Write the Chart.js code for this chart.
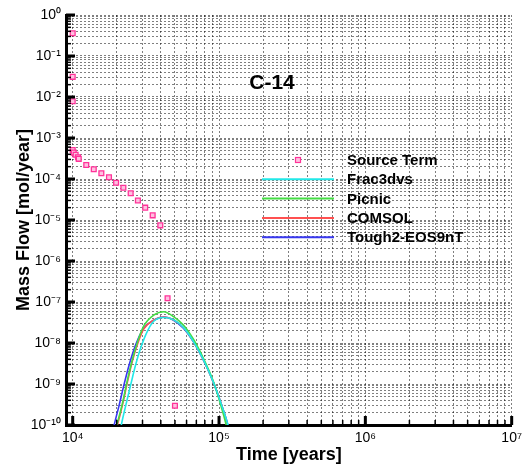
<!DOCTYPE html>
<html>
<head>
<meta charset="utf-8">
<script src="https://cdn.jsdelivr.net/npm/chart.js@4.4.1/dist/chart.umd.min.js"></script>
<style>
  html, body { margin: 0; padding: 0; background: #fff; }
  #wrap { width: 527px; height: 466px; }
</style>
</head>
<body>
<div id="wrap"><canvas id="massChart" width="527" height="466"></canvas></div>
<script>
'use strict'

// source term (markers)
const sourceTime = [1e4, 1e4, 1e4, 1e4, 1.016e4, 1.047e4, 1.086e4, 1.1e4, 1.238e4, 1.393e4, 1.57e4, 1.77e4, 1.98e4, 2.22e4, 2.49e4, 2.79e4, 3.13e4, 3.52e4, 3.97e4, 4.45e4, 5.0e4];
const sourceFlow = [0.36, 0.031, 0.0079, 5.1e-4, 4.4e-4, 3.9e-4, 3.4e-4, 3.1e-4, 2.2e-4, 1.73e-4, 1.38e-4, 1.1e-4, 8.1e-5, 6.1e-5, 4.5e-5, 3.0e-5, 2.0e-5, 1.3e-5, 7.4e-6, 1.23e-7, 2.95e-10];

const frac3dvsTime = [2.08e4, 2.15e4, 2.31e4, 2.49e4, 2.69e4, 2.91e4, 3.23e4, 3.58e4, 4.19e4, 4.89e4, 5.71e4, 6.67e4, 7.8e4, 9.11e4, 1.04e5, 1.15e5, 1.2e5];
const frac3dvsFlow = [5e-11, 1e-10, 3.1e-10, 9.5e-10, 2.9e-9, 7.4e-9, 1.9e-8, 3.4e-8, 4.2e-8, 3.7e-8, 2.4e-8, 1.1e-8, 4e-9, 1.15e-9, 3.1e-10, 1e-10, 5e-11];

const picnicTime = [1.88e4, 2.0e4, 2.18e4, 2.36e4, 2.55e4, 2.76e4, 3.06e4, 3.58e4, 4.19e4, 4.89e4, 5.71e4, 6.67e4, 7.8e4, 9.11e4, 1.03e5, 1.12e5, 1.17e5];
const picnicFlow = [5e-11, 1e-10, 3.2e-10, 1.2e-9, 3.8e-9, 1e-8, 2.6e-8, 4.8e-8, 5.8e-8, 4.4e-8, 2.75e-8, 1.25e-8, 4.3e-9, 1.2e-9, 3e-10, 1e-10, 5e-11];

const comsolTime = [1.9e4, 2.02e4, 2.19e4, 2.37e4, 2.55e4, 2.76e4, 3.06e4, 3.58e4, 4.19e4, 4.89e4, 5.71e4, 6.67e4, 7.8e4, 9.11e4, 1.04e5, 1.14e5, 1.19e5];
const comsolFlow = [5e-11, 1e-10, 3.1e-10, 1.14e-9, 3.5e-9, 8.9e-9, 2.2e-8, 3.6e-8, 4.3e-8, 3.7e-8, 2.4e-8, 1.1e-8, 4e-9, 1.15e-9, 3.1e-10, 1e-10, 5e-11];

const tough2Time = [1.84e4, 1.92e4, 2.08e4, 2.24e4, 2.43e4, 2.69e4, 3.06e4, 3.58e4, 4.19e4, 4.89e4, 5.71e4, 6.67e4, 7.8e4, 9.11e4, 1.04e5, 1.15e5, 1.2e5];
const tough2Flow = [5e-11, 1e-10, 3.1e-10, 9.5e-10, 2.9e-9, 8.9e-9, 2.3e-8, 3.6e-8, 4.3e-8, 3.6e-8, 2.3e-8, 1.08e-8, 3.9e-9, 1.14e-9, 3.1e-10, 1e-10, 5e-11];

// axis ticks (decade exponents and their labels)
const xTickExps = [4, 5, 6, 7];
const xTickLabels = ['10⁴', '10⁵', '10⁶', '10⁷'];
const yTickExps = [-10, -9, -8, -7, -6, -5, -4, -3, -2, -1, 0];
const yTickLabels = ['10⁻¹⁰', '10⁻⁹', '10⁻⁸', '10⁻⁷', '10⁻⁶', '10⁻⁵', '10⁻⁴', '10⁻³', '10⁻²', '10⁻¹', '10⁰'];

const FONT = 'Arial, "Liberation Sans", sans-serif';
Chart.defaults.font.family = FONT;
Chart.defaults.color = '#000';

function pairs(xs, ys) {
  return xs.map(function(x, i) { return {x: x, y: ys[i]}; });
}

function decadeTicks(exps) {
  var t = [];
  for (var i = 0; i < exps.length; i++) {
    var p = Math.pow(10, exps[i]);
    if (i === exps.length - 1) { t.push({value: p, major: true}); break; }
    for (var m = 1; m <= 9; m++) t.push({value: m * p, major: m === 1});
  }
  return t;
}

function labelFor(value, exps, labels) {
  var e = Math.log10(value);
  var r = Math.round(e);
  if (Math.abs(e - r) > 1e-6) return '';
  var i = exps.indexOf(r);
  return i < 0 ? '' : labels[i];
}

// tick marks pointing into the plot, like the original
const innerTicks = {
  id: 'innerTicks',
  afterDraw: function(chart) {
    var ctx = chart.ctx, a = chart.chartArea;
    ctx.save();
    ctx.strokeStyle = '#000';
    chart.scales.x.ticks.forEach(function(t) {
      var px = chart.scales.x.getPixelForValue(t.value);
      ctx.lineWidth = t.major ? 3 : 1.5;
      ctx.beginPath();
      ctx.moveTo(px, a.bottom);
      ctx.lineTo(px, a.bottom - (t.major ? 9 : 5));
      ctx.stroke();
    });
    chart.scales.y.ticks.forEach(function(t) {
      var py = chart.scales.y.getPixelForValue(t.value);
      ctx.lineWidth = t.major ? 3 : 1.5;
      ctx.beginPath();
      ctx.moveTo(a.left, py);
      ctx.lineTo(a.left + (t.major ? 9 : 5), py);
      ctx.stroke();
    });
    ctx.restore();
  }
};

// in-plot legend and "C-14" label
const plotLegend = {
  id: 'plotLegend',
  afterDatasetsDraw: function(chart) {
    var ctx = chart.ctx;
    ctx.save();
    ctx.fillStyle = '#000';
    ctx.font = 'bold 21px ' + FONT;
    ctx.textAlign = 'center';
    ctx.textBaseline = 'middle';
    ctx.fillText('C-14', 272, 83);

    ctx.font = 'bold 15px ' + FONT;
    ctx.textAlign = 'left';
    chart.data.datasets.forEach(function(ds, i) {
      var y = 160 + i * 19.3;
      if (ds.showLine === false) {
        ctx.fillStyle = ds.backgroundColor;
        ctx.strokeStyle = ds.borderColor;
        ctx.lineWidth = 1.2;
        ctx.fillRect(295.5, y - 2.5, 5, 5);
        ctx.strokeRect(295.5, y - 2.5, 5, 5);
      } else {
        ctx.strokeStyle = ds.borderColor;
        ctx.lineWidth = 2;
        ctx.beginPath();
        ctx.moveTo(262, y);
        ctx.lineTo(334, y);
        ctx.stroke();
      }
      ctx.fillStyle = '#000';
      ctx.fillText(ds.label, 347, y + 1);
    });
    ctx.restore();
  }
};

const lineStyle = {
  showLine: true,
  pointRadius: 0,
  borderWidth: 1.6,
  cubicInterpolationMode: 'monotone',
  fill: false
};

const gridStyle = {
  color: 'rgba(0,0,0,0.5)',
  lineWidth: 1,
  drawTicks: false
};

const ctx = document.getElementById('massChart').getContext('2d');
const massChart = new Chart(ctx, {
  type: 'scatter',
  data: {
    datasets: [
      {
        label: 'Source Term',
        data: pairs(sourceTime, sourceFlow),
        showLine: false,
        pointStyle: 'rect',
        pointRadius: 3.4,
        borderWidth: 1.3,
        borderColor: '#ff3399',
        backgroundColor: '#ffc0e0'
      },
      Object.assign({label: 'Frac3dvs', data: pairs(frac3dvsTime, frac3dvsFlow), borderColor: '#22e8e8'}, lineStyle),
      Object.assign({label: 'Picnic', data: pairs(picnicTime, picnicFlow), borderColor: '#44dd44'}, lineStyle),
      Object.assign({label: 'COMSOL', data: pairs(comsolTime, comsolFlow), borderColor: '#ff5050'}, lineStyle),
      Object.assign({label: 'Tough2-EOS9nT', data: pairs(tough2Time, tough2Flow), borderColor: '#3838f0'}, lineStyle)
    ]
  },
  options: {
    responsive: false,
    animation: false,
    layout: {
      padding: {left: 4, right: 10, top: 15, bottom: 0}
    },
    plugins: {
      legend: {display: false},
      tooltip: {enabled: false}
    },
    scales: {
      x: {
        type: 'logarithmic',
        min: 9000,
        max: 1e7,
        afterBuildTicks: function(scale) { scale.ticks = decadeTicks(xTickExps); },
        afterFit: function(scale) { scale.height = 41; },
        ticks: {
          autoSkip: false,
          maxRotation: 0,
          padding: 5,
          font: {size: 14},
          callback: function(v) { return labelFor(v, xTickExps, xTickLabels); }
        },
        grid: gridStyle,
        border: {display: true, color: '#000', width: 3, dash: [2, 2]},
        title: {
          display: true,
          text: 'Time [years]',
          font: {size: 18, weight: 'bold'},
          padding: {top: 0, bottom: 0}
        }
      },
      y: {
        type: 'logarithmic',
        min: 1e-10,
        max: 1,
        afterBuildTicks: function(scale) { scale.ticks = decadeTicks(yTickExps); },
        afterFit: function(scale) { scale.width = 62; },
        ticks: {
          autoSkip: false,
          padding: 5,
          font: {size: 14},
          callback: function(v) { return labelFor(v, yTickExps, yTickLabels); }
        },
        grid: gridStyle,
        border: {display: true, color: '#000', width: 3, dash: [2, 2]},
        title: {
          display: true,
          text: 'Mass Flow [mol/year]',
          font: {size: 18, weight: 'bold'},
          padding: {top: 9, bottom: 0}
        }
      }
    }
  },
  plugins: [innerTicks, plotLegend]
});
</script>
</body>
</html>
